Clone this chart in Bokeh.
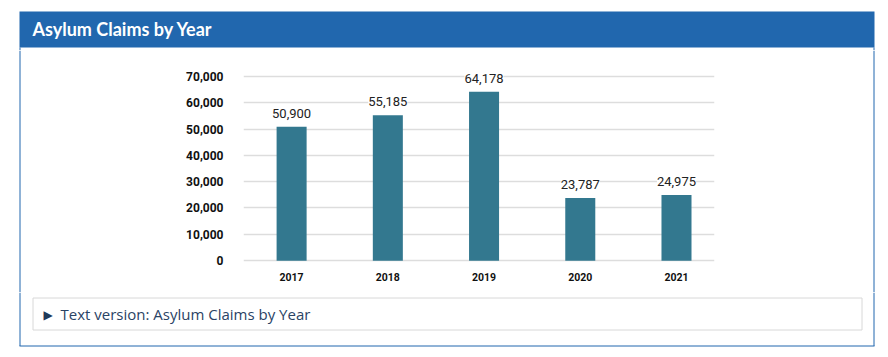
from bokeh.plotting import figure
from bokeh.layouts import column, row
from bokeh.models import (ColumnDataSource, Range1d, FixedTicker, LabelSet,
                          NumeralTickFormatter)
from bokeh.core.properties import value
from bokeh.embed import file_html
from bokeh.resources import INLINE

# ---- data ----
years = ["2017", "2018", "2019", "2020", "2021"]
claims = [50900, 55185, 64178, 23787, 24975]
y_ticks = [0, 10000, 20000, 30000, 40000, 50000, 60000, 70000]
title_text = "Asylum Claims by Year"
text_version = "Text version: Asylum Claims by Year"

# ---- page layout (pixels) ----
W = 880
TOP_H, MID_H, BOT_H = 50, 242, 58
LEFT_W, CHART_W = 160, 580
RIGHT_W = W - LEFT_W - CHART_W
PANEL_L, PANEL_R, PANEL_T, PANEL_B = 19.5, 873.5, 11, 345.5
HEADER_B = 47
BLUE = "#2167ae"
TXT_BLUE = "#2a4365"
TEXT_SHIFT = 7      # text glyph baseline correction


def tile(w, h):
    f = figure(width=w, height=h, output_backend="svg", toolbar_location=None,
               x_range=Range1d(0, w), y_range=Range1d(h, 0),
               x_axis_location=None, y_axis_location=None,
               min_border=0, background_fill_color="white",
               border_fill_color="white")
    f.outline_line_color = None
    f.grid.visible = False
    return f


# ---- header tile ----
top = tile(W, TOP_H)
top.quad(left=[PANEL_L - 0.5], right=[PANEL_R + 0.5], top=[PANEL_T], bottom=[HEADER_B],
         fill_color=BLUE, line_color=None)
top.segment(x0=[PANEL_L, PANEL_R], y0=[HEADER_B, HEADER_B], x1=[PANEL_L, PANEL_R],
            y1=[TOP_H, TOP_H], line_color=BLUE, line_width=1)
top.text(x=[32], y=[35.7 - TEXT_SHIFT], text=[title_text], text_font=value("Lato"),
         text_font_style="bold", text_font_size="18px", text_color="white",
         text_baseline="alphabetic")

# ---- side tiles ----
left = tile(LEFT_W, MID_H)
left.segment(x0=[PANEL_L], y0=[0], x1=[PANEL_L], y1=[MID_H], line_color=BLUE, line_width=1)
right = tile(RIGHT_W, MID_H)
rx = PANEL_R - LEFT_W - CHART_W
right.segment(x0=[rx], y0=[0], x1=[rx], y1=[MID_H], line_color=BLUE, line_width=1)

# ---- chart ----
FL, FR, FB = 243, 714, 262            # frame edges in page pixels
px_per_unit = 188 / 71400
y0 = -700
y1 = y0 + (FB - TOP_H) / px_per_unit

xs = list(range(len(years)))
src = ColumnDataSource(dict(x=xs, year=years, claims=claims,
                            label=[f"{v:,}" for v in claims]))

p = figure(width=CHART_W, height=MID_H, output_backend="svg", toolbar_location=None,
           x_range=Range1d(-0.5, 4.395), y_range=Range1d(y0, y1),
           min_border_left=FL - LEFT_W, min_border_right=LEFT_W + CHART_W - FR,
           min_border_top=0, min_border_bottom=TOP_H + MID_H - FB,
           background_fill_color="white", border_fill_color="white")
p.outline_line_color = None

p.vbar(x="x", top="claims", bottom=0, width=0.312, source=src,
       fill_color="#33788f", line_color=None)

p.xaxis.ticker = FixedTicker(ticks=xs)
p.xaxis.major_label_overrides = {i: y for i, y in zip(xs, years)}
p.yaxis.ticker = FixedTicker(ticks=y_ticks)
p.yaxis.formatter = NumeralTickFormatter(format="0,0")
for ax in (p.xaxis, p.yaxis):
    ax.axis_line_color = None
    ax.major_tick_line_color = None
    ax.minor_tick_line_color = None
    ax.major_tick_in = 0
    ax.major_tick_out = 0
    ax.major_label_text_color = "#111111"
    ax.major_label_text_font = "Roboto"
    ax.major_label_text_font_style = "bold"
p.xaxis.major_label_text_font_size = "10.5px"
p.xaxis.major_label_standoff = 10
p.yaxis.major_label_text_font_size = "12px"
p.yaxis.major_label_standoff = 20

p.xgrid.visible = False
p.ygrid.ticker = FixedTicker(ticks=y_ticks)
p.ygrid.grid_line_color = "#dddddd"
p.ygrid.grid_line_width = 1.5

p.add_layout(LabelSet(x="x", y="claims", text="label", source=src,
                      text_align="center", text_baseline="alphabetic", y_offset=9,
                      text_font=value("Roboto"), text_font_size=value("13px"),
                      text_color="#222222", background_fill_color="white"))

# ---- bottom tile ----
bot = tile(W, BOT_H)
off = TOP_H + MID_H
bot.segment(x0=[PANEL_L, PANEL_R, PANEL_L - 0.5], y0=[0, 0, PANEL_B - off],
            x1=[PANEL_L, PANEL_R, PANEL_R + 0.5], y1=[PANEL_B - off, PANEL_B - off, PANEL_B - off],
            line_color=BLUE, line_width=1)
bot.quad(left=[32.5], right=[861.5], top=[297.5 - off], bottom=[329.5 - off],
         fill_color=None, line_color="#d8d8d8", line_width=1)
bot.text(x=[47.5], y=[315.5 - off - 1.5], text=["▶"], text_font=value("DejaVu Sans"),
         text_font_size="12px", text_color="#1f3a5a", text_align="center",
         text_baseline="middle")
bot.text(x=[60], y=[320 - off - TEXT_SHIFT], text=[text_version],
         text_font=value("Open Sans"), text_font_size="15px", text_color=TXT_BLUE,
         text_baseline="alphabetic")

layout = column(top, row(column(left), p, column(right)), bot)
open("out.html", "w").write(file_html(layout, INLINE))
